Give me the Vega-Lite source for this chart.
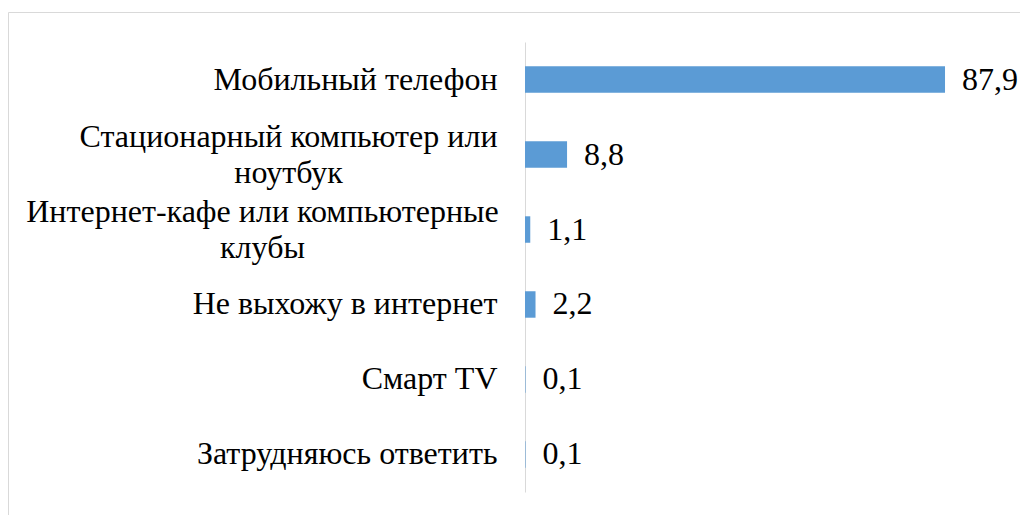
{
  "$schema": "https://vega.github.io/schema/vega-lite/v6.json",
  "width": 1015,
  "height": 505,
  "autosize": {"type": "none"},
  "padding": {"left": 8, "top": 12, "right": 0, "bottom": 0},
  "background": "white",
  "config": {
    "view": {"stroke": "#d9d9d9", "strokeWidth": 1},
    "locale": {"number": {"decimal": ",", "thousands": " ", "grouping": [3], "currency": ["", ""]}},
    "font": "Liberation Serif"
  },
  "data": {
    "values": [
      {"category": "Мобильный телефон", "value": 87.9},
      {"category": "Стационарный компьютер или ноутбук", "value": 8.8},
      {"category": "Интернет-кафе или компьютерные клубы", "value": 1.1},
      {"category": "Не выхожу в интернет", "value": 2.2},
      {"category": "Смарт TV", "value": 0.1},
      {"category": "Затрудняюсь ответить", "value": 0.1}
    ]
  },
  "encoding": {
    "y": {
      "field": "category",
      "type": "nominal",
      "sort": null,
      "scale": {"range": [30, 480], "paddingInner": 0.647, "paddingOuter": 0.325},
      "axis": {
        "title": null,
        "orient": "left",
        "offset": -517,
        "domainColor": "#d9d9d9",
        "domainWidth": 1,
        "ticks": false,
        "grid": false,
        "labelFont": "Liberation Serif",
        "labelFontSize": 32,
        "labelColor": "#000000",
        "labelLimit": 0,
        "labelLineHeight": 36,
        "labelBaseline": "middle",
        "labelExpr": "datum.value == 'Стационарный компьютер или ноутбук' ? ['Стационарный компьютер или', 'ноутбук'] : datum.value == 'Интернет-кафе или компьютерные клубы' ? ['Интернет-кафе или компьютерные', 'клубы'] : datum.label",
        "labelAlign": {
          "condition": {"test": "datum.value == 'Стационарный компьютер или ноутбук' || datum.value == 'Интернет-кафе или компьютерные клубы'", "value": "center"},
          "value": "right"
        },
        "labelOffset": {
          "condition": {"test": "datum.value == 'Стационарный компьютер или ноутбук' || datum.value == 'Интернет-кафе или компьютерные клубы'", "value": -18},
          "value": 0
        },
        "labelPadding": {
          "condition": [
            {"test": "datum.value == 'Стационарный компьютер или ноутбук'", "value": 237},
            {"test": "datum.value == 'Интернет-кафе или компьютерные клубы'", "value": 263}
          ],
          "value": 28
        }
      }
    }
  },
  "layer": [
    {
      "mark": {"type": "bar", "color": "#5B9BD5"},
      "encoding": {
        "x": {"field": "value", "type": "quantitative", "scale": {"domain": [-108.2, 104.22], "nice": false, "zero": false}, "axis": null},
        "x2": {"datum": 0}
      }
    },
    {
      "mark": {"type": "text", "align": "left", "baseline": "middle", "dx": 17, "fontSize": 32, "font": "Liberation Serif", "color": "#000000"},
      "encoding": {
        "x": {"field": "value", "type": "quantitative"},
        "text": {"field": "value", "type": "quantitative", "format": ".1f"}
      }
    }
  ]
}
